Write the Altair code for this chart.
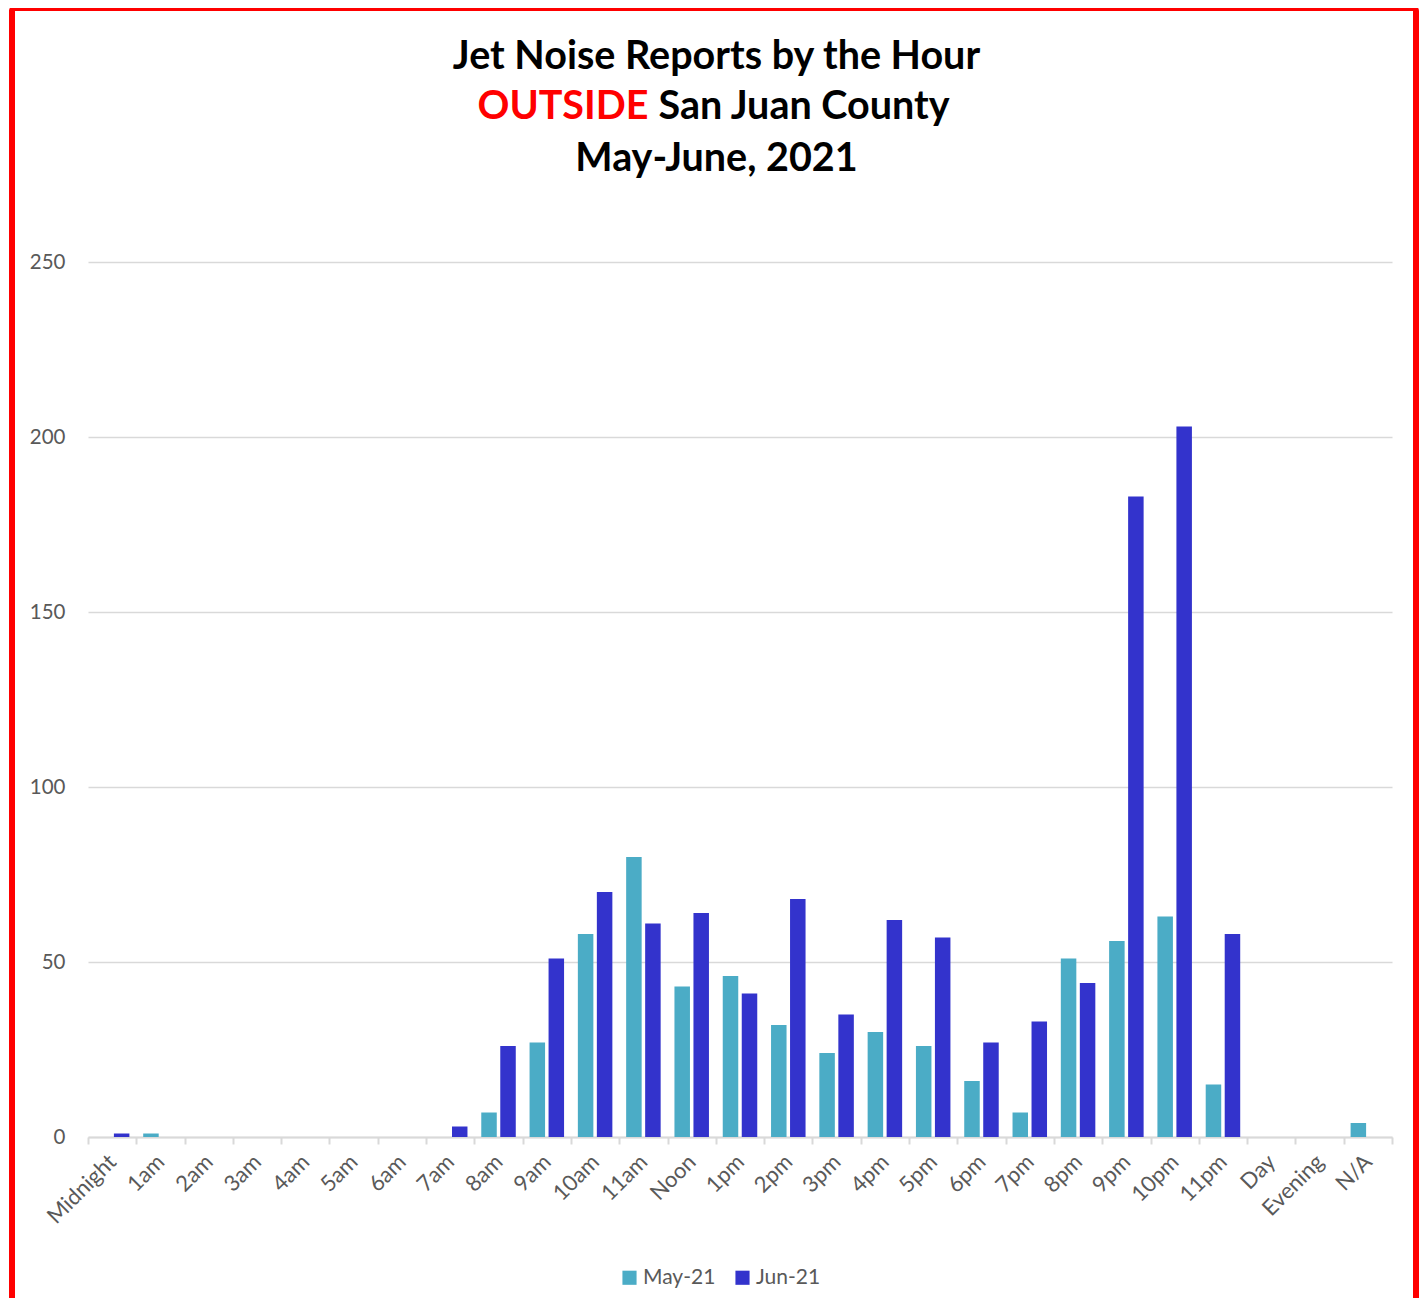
import altair as alt
import pandas as pd

hours = ["Midnight", "1am", "2am", "3am", "4am", "5am", "6am", "7am", "8am", "9am",
         "10am", "11am", "Noon", "1pm", "2pm", "3pm", "4pm", "5pm", "6pm", "7pm",
         "8pm", "9pm", "10pm", "11pm", "Day", "Evening", "N/A"]
may_21 = [0, 1, 0, 0, 0, 0, 0, 0, 7, 27, 58, 80, 43, 46, 32, 24, 30, 26, 16, 7,
          51, 56, 63, 15, 0, 0, 4]
jun_21 = [1, 0, 0, 0, 0, 0, 0, 3, 26, 51, 70, 61, 64, 41, 68, 35, 62, 57, 27, 33,
          44, 183, 203, 58, 0, 0, 0]
series = ["May-21", "Jun-21"]
colors = ["#4BACC6", "#3333CC"]
y_ticks = [0, 50, 100, 150, 200, 250]

rows = []
for h, m, j in zip(hours, may_21, jun_21):
    rows.append({"hour": h, "series": series[0], "value": m})
    rows.append({"hour": h, "series": series[1], "value": j})
df = pd.DataFrame(rows)

FONT = "Lato"
W, H = 1304, 875
TFS = 39.5

bars = alt.Chart(df).mark_bar().encode(
    x=alt.X("hour:N", sort=hours,
            scale=alt.Scale(paddingInner=0, paddingOuter=0),
            axis=alt.Axis(title=None, labelAngle=-45, labelAlign="right",
                          labelBaseline="middle", labelFontSize=22,
                          labelColor="#595959", labelFont=FONT, labelPadding=14,
                          domainColor="#d9d9d9", domainWidth=2,
                          tickColor="#d9d9d9", tickWidth=2, tickSize=7,
                          tickBand="extent", labelOverlap=False)),
    xOffset=alt.XOffset("series:N", sort=series,
                        scale=alt.Scale(paddingInner=0.184, paddingOuter=0.363)),
    y=alt.Y("value:Q", scale=alt.Scale(domain=[0, 250], nice=False),
            axis=alt.Axis(title=None, values=y_ticks, labelFontSize=20.5,
                          labelColor="#595959", labelFont=FONT, labelPadding=23,
                          domain=False, ticks=False, gridColor="#d9d9d9",
                          gridWidth=1.5)),
    color=alt.Color("series:N", sort=series,
                    scale=alt.Scale(domain=series, range=colors),
                    legend=alt.Legend(title=None, orient="none", direction="horizontal",
                                      legendX=531, legendY=1005,
                                      symbolType="square", symbolSize=200,
                                      symbolStrokeWidth=0, labelFontSize=21,
                                      labelColor="#595959", labelFont=FONT,
                                      columnPadding=16, padding=0, labelOffset=3)),
)

TX = 628.5
t1 = alt.Chart(pd.DataFrame({"t": ["Jet Noise Reports by the Hour"]})).mark_text(
    font=FONT, fontSize=TFS, fontWeight="bold", color="black",
    align="center", baseline="middle").encode(
    text="t:N", x=alt.value(TX), y=alt.value(-205))
t2a = alt.Chart(pd.DataFrame({"t": ["OUTSIDE"]})).mark_text(
    font=FONT, fontSize=TFS, fontWeight="bold", color="#FF0000",
    align="right", baseline="middle").encode(
    text="t:N", x=alt.value(TX - 68), y=alt.value(-155))
t2b = alt.Chart(pd.DataFrame({"t": ["San Juan County"]})).mark_text(
    font=FONT, fontSize=TFS, fontWeight="bold", color="black",
    align="left", baseline="middle").encode(
    text="t:N", x=alt.value(TX - 58), y=alt.value(-155))
t3 = alt.Chart(pd.DataFrame({"t": ["May-June, 2021"]})).mark_text(
    font=FONT, fontSize=TFS, fontWeight="bold", color="black",
    align="center", baseline="middle").encode(
    text="t:N", x=alt.value(TX), y=alt.value(-103))

border = alt.Chart(pd.DataFrame({"b": [1]})).mark_rect(
    fill="white", fillOpacity=0, stroke="#FF0000", strokeWidth=6,
    cornerRadius=3).encode(
    x=alt.value(-76), x2=alt.value(1328),
    y=alt.value(-254), y2=alt.value(1045))

chart = alt.layer(bars, t1, t2a, t2b, t3, border).properties(
    width=W, height=H,
    autosize=alt.AutoSizeParams(type="none"),
    padding={"left": 80, "top": 254, "right": 27, "bottom": 161},
    background="white",
).configure_view(stroke=None)

chart.save("out.html", embed_options={"renderer": "svg", "actions": False})
